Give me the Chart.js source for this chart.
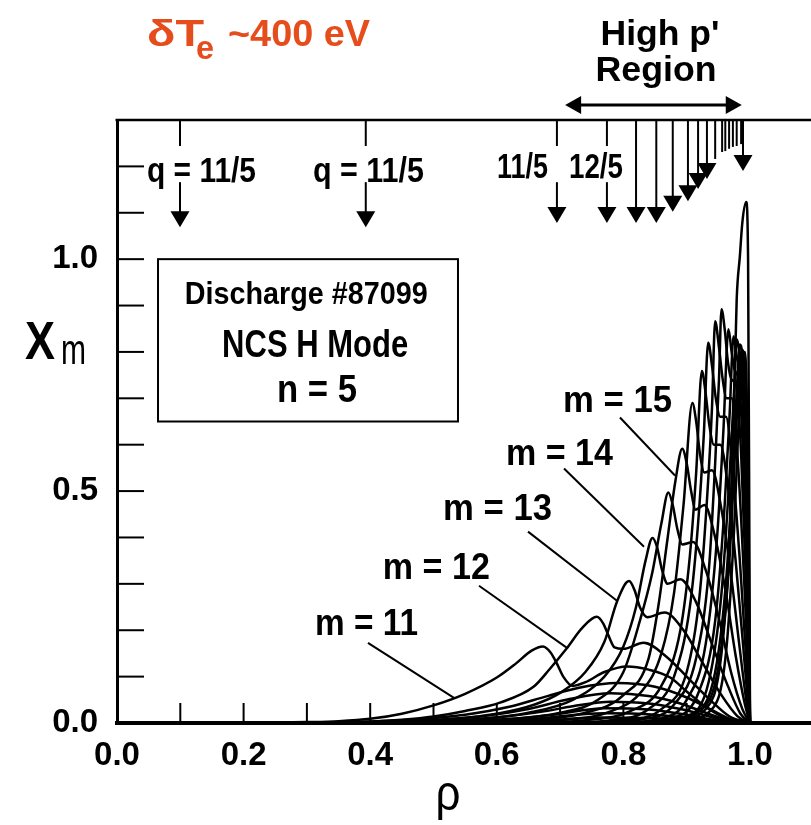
<!DOCTYPE html>
<html>
<head>
<title>Xm profiles, n = 5</title>
<script src="https://cdn.jsdelivr.net/npm/chart.js@4/dist/chart.umd.min.js"></script>
<style>
body { margin: 0; background: #fff; }
canvas { display: block; }
</style>
</head>
<body>
<canvas id="chart" width="811" height="825"></canvas>
<script>
// displacement X_m against rho, one list of [rho, X_m] per poloidal harmonic m
const mode5  = [[0.42,0],[0.58,0.002],[0.68,0.006],[0.76,0.012],[0.85,0.010],[0.92,0.005],[1.0,0]];
const mode6  = [[0.40,0],[0.55,0.003],[0.65,0.008],[0.77,0.021],[0.85,0.018],[0.91,0.010],[0.95,0.004],[1.0,0]];
const mode7  = [[0.38,0],[0.52,0.003],[0.62,0.009],[0.69,0.018],[0.77,0.032],[0.84,0.029],[0.89,0.020],[0.93,0.010],[0.96,0.003],[1.0,0]];
const mode8  = [[0.35,0],[0.50,0.004],[0.60,0.012],[0.67,0.024],[0.72,0.036],[0.78,0.046],[0.84,0.042],[0.89,0.030],[0.93,0.016],[0.96,0.005],[1.0,0]];
const mode9  = [[0.32,0],[0.48,0.005],[0.58,0.015],[0.65,0.030],[0.71,0.050],[0.78,0.064],[0.84,0.058],[0.89,0.042],[0.93,0.022],[0.965,0.006],[1.0,0]];
const mode10 = [[0.30,0],[0.45,0.006],[0.55,0.018],[0.62,0.035],[0.68,0.058],[0.73,0.076],[0.79,0.086],[0.85,0.078],[0.90,0.055],[0.94,0.028],[0.97,0.008],[1.0,0]];
const mode11 = [[0.20,0],[0.30,0.002],[0.35,0.004],[0.40,0.009],[0.45,0.020],[0.50,0.038],[0.55,0.063],[0.60,0.098],[0.63,0.128],[0.655,0.156],[0.673,0.165],[0.685,0.152],[0.695,0.128],[0.705,0.100],[0.72,0.080],[0.74,0.088],[0.77,0.110],[0.806,0.122],[0.84,0.115],[0.874,0.098],[0.90,0.068],[0.935,0.030],[0.965,0.008],[1.0,0]];
const mode12 = [[0.30,0],[0.40,0.003],[0.45,0.007],[0.50,0.014],[0.55,0.026],[0.605,0.044],[0.658,0.078],[0.684,0.117],[0.71,0.160],[0.735,0.205],[0.758,0.229],[0.768,0.215],[0.776,0.190],[0.786,0.163],[0.80,0.160],[0.832,0.173],[0.868,0.143],[0.905,0.093],[0.937,0.050],[0.968,0.014],[1.0,0]];
const mode13 = [[0.40,0],[0.50,0.006],[0.60,0.020],[0.66,0.040],[0.70,0.065],[0.74,0.110],[0.77,0.175],[0.79,0.262],[0.809,0.306],[0.818,0.285],[0.826,0.250],[0.838,0.228],[0.865,0.238],[0.895,0.200],[0.925,0.130],[0.955,0.060],[0.98,0.015],[1.0,0]];
const mode14 = [[0.45,0],[0.55,0.006],[0.65,0.022],[0.72,0.050],[0.77,0.100],[0.80,0.165],[0.82,0.250],[0.835,0.350],[0.846,0.399],[0.853,0.380],[0.861,0.330],[0.870,0.300],[0.890,0.310],[0.915,0.260],[0.940,0.170],[0.965,0.080],[0.985,0.020],[1.0,0]];
const mode15 = [[0.50,0],[0.60,0.006],[0.70,0.022],[0.76,0.050],[0.80,0.110],[0.826,0.220],[0.845,0.320],[0.860,0.430],[0.871,0.497],[0.878,0.470],[0.885,0.420],[0.893,0.385],[0.910,0.390],[0.930,0.330],[0.950,0.230],[0.970,0.110],[0.988,0.030],[1.0,0]];
const mode16 = [[0.55,0],[0.65,0.006],[0.74,0.022],[0.80,0.060],[0.84,0.140],[0.855,0.250],[0.870,0.400],[0.882,0.520],[0.893,0.591],[0.900,0.560],[0.907,0.500],[0.914,0.460],[0.928,0.470],[0.945,0.400],[0.962,0.280],[0.978,0.140],[0.992,0.040],[1.0,0]];
const mode17 = [[0.60,0],[0.70,0.006],[0.78,0.025],[0.83,0.070],[0.86,0.150],[0.88,0.280],[0.895,0.470],[0.909,0.690],[0.915,0.650],[0.921,0.580],[0.928,0.540],[0.940,0.545],[0.955,0.460],[0.970,0.320],[0.983,0.170],[0.995,0.040],[1.0,0]];
const mode18 = [[0.65,0],[0.74,0.006],[0.81,0.025],[0.86,0.080],[0.89,0.200],[0.905,0.360],[0.915,0.540],[0.924,0.759],[0.930,0.710],[0.936,0.640],[0.943,0.600],[0.953,0.600],[0.966,0.500],[0.978,0.340],[0.989,0.170],[0.997,0.040],[1.0,0]];
const mode19 = [[0.70,0],[0.78,0.006],[0.84,0.030],[0.88,0.100],[0.905,0.250],[0.918,0.430],[0.927,0.620],[0.934,0.820],[0.940,0.770],[0.946,0.700],[0.953,0.660],[0.962,0.660],[0.973,0.540],[0.984,0.350],[0.993,0.160],[1.0,0]];
const mode20 = [[0.72,0],[0.80,0.006],[0.86,0.030],[0.90,0.110],[0.92,0.270],[0.932,0.480],[0.940,0.680],[0.945,0.866],[0.951,0.810],[0.957,0.740],[0.963,0.700],[0.971,0.700],[0.981,0.560],[0.990,0.330],[0.997,0.120],[1.0,0]];
const mode21 = [[0.75,0],[0.83,0.008],[0.88,0.040],[0.915,0.140],[0.935,0.330],[0.945,0.560],[0.951,0.740],[0.955,0.892],[0.960,0.850],[0.965,0.780],[0.971,0.740],[0.978,0.730],[0.986,0.580],[0.993,0.330],[1.0,0]];
const mode22 = [[0.78,0],[0.86,0.010],[0.90,0.050],[0.93,0.170],[0.948,0.400],[0.958,0.630],[0.966,0.849],[0.971,0.800],[0.976,0.760],[0.982,0.740],[0.989,0.580],[0.995,0.300],[1.0,0]];
const mode23 = [[0.80,0],[0.88,0.012],[0.92,0.070],[0.945,0.220],[0.960,0.470],[0.968,0.670],[0.974,0.834],[0.979,0.790],[0.984,0.760],[0.990,0.640],[0.995,0.380],[1.0,0]];
const mode24 = [[0.82,0],[0.90,0.015],[0.935,0.090],[0.955,0.280],[0.968,0.540],[0.975,0.720],[0.979,0.827],[0.984,0.790],[0.989,0.720],[0.994,0.500],[1.0,0]];
const mode25 = [[0.85,0],[0.91,0.020],[0.945,0.110],[0.963,0.320],[0.974,0.580],[0.980,0.740],[0.984,0.816],[0.988,0.790],[0.993,0.640],[0.997,0.350],[1.0,0]];
const mode26 = [[0.86,0],[0.92,0.025],[0.95,0.120],[0.967,0.340],[0.977,0.600],[0.983,0.760],[0.987,0.805],[0.991,0.770],[0.995,0.600],[0.998,0.300],[1.0,0]];
const mode27 = [[0.88,0],[0.94,0.030],[0.962,0.150],[0.975,0.420],[0.983,0.680],[0.988,0.790],[0.992,0.800],[0.995,0.700],[0.998,0.400],[1.0,0]];
const mode28 = [[0.87,0],[0.93,0.030],[0.955,0.150],[0.968,0.400],[0.975,0.700],[0.979,0.913],[0.984,1.006],[0.988,1.080],[0.994,1.123],[0.997,1.000],[0.999,0.400],[1.0,0]];

const modeNumbers = [5, 6, 7, 8, 9, 10, 11, 12, 13, 14, 15, 16, 17, 18, 19, 20, 21, 22, 23, 24, 25, 26, 27, 28];
const modes = [mode5, mode6, mode7, mode8, mode9, mode10, mode11, mode12, mode13, mode14, mode15, mode16,
               mode17, mode18, mode19, mode20, mode21, mode22, mode23, mode24, mode25, mode26, mode27, mode28];

// axis labels
const xLabels = ['0.0', '0.2', '0.4', '0.6', '0.8', '1.0'];
const yLabels = ['0.0', '0.5', '1.0'];

// rational surfaces q = m/5 marked along the top: rho, arrow end (X_m units), arrowhead or not
const qRho  = [0.0995, 0.393, 0.695, 0.774, 0.820, 0.852, 0.878, 0.902, 0.918, 0.932, 0.945, 0.956, 0.961, 0.967, 0.973, 0.979, 0.986, 0.989];
const qTip  = [1.069, 1.069, 1.078, 1.078, 1.078, 1.078, 1.102, 1.125, 1.151, 1.173, 1.216, 1.231, 1.233, 1.238, 1.242, 1.244, 1.248, 1.190];
const qHead = [true, true, true, true, true, true, true, true, true, true, false, false, false, false, false, false, false, true];
const qLabels = ['q = 11/5', 'q = 11/5', '11/5', '12/5'];

// harmonics that get a callout
const mLabels = ['m = 11', 'm = 12', 'm = 13', 'm = 14', 'm = 15'];

const FONT = '"Liberation Sans", Arial, sans-serif';

function line(ctx, x1, y1, x2, y2, w) {
  ctx.lineWidth = w;
  ctx.beginPath();
  ctx.moveTo(x1, y1);
  ctx.lineTo(x2, y2);
  ctx.stroke();
}

function tri(ctx, pts) {
  ctx.beginPath();
  ctx.moveTo(pts[0], pts[1]);
  ctx.lineTo(pts[2], pts[3]);
  ctx.lineTo(pts[4], pts[5]);
  ctx.closePath();
  ctx.fill();
}

// text squeezed to a given width, like the condensed face of the figure
function fitText(ctx, text, x, y, font, width, align) {
  ctx.save();
  ctx.font = font;
  const w = ctx.measureText(text).width;
  ctx.translate(align === 'center' ? x - width / 2 : x, y);
  ctx.scale(width / w, 1);
  ctx.textAlign = 'left';
  ctx.textBaseline = 'alphabetic';
  ctx.fillText(text, 0, 0);
  ctx.restore();
}

const decor = {
  id: 'decor',
  afterDraw(chart) {
    const { ctx, chartArea: a, scales: { x, y } } = chart;
    const px = v => x.getPixelForValue(v);
    const py = v => y.getPixelForValue(v);
    ctx.save();
    ctx.strokeStyle = '#000';
    ctx.fillStyle = '#000';

    // top edge of the frame
    line(ctx, a.left - 1.5, a.top, a.right, a.top, 2.5);

    // tick marks point inwards
    for (const t of x.ticks) {
      if (t.value > 0 && t.value <= 1.0001) line(ctx, px(t.value), a.bottom, px(t.value), a.bottom - 20, 2);
    }
    for (const t of y.ticks) {
      if (t.value > 0 && t.value < 1.25) line(ctx, a.left, py(t.value), a.left + 27, py(t.value), 2);
    }

    // q = m/n surfaces
    const top = py(1.298);
    qRho.forEach((r, i) => {
      const xx = px(r);
      const tip = py(qTip[i]);
      const end = qHead[i] ? tip - 13 : tip;
      if (i < qLabels.length) {
        line(ctx, xx, top, xx, py(1.244), 2);
        line(ctx, xx, py(1.166), xx, end, 2);
      } else {
        line(ctx, xx, top, xx, end, 2);
      }
      if (qHead[i]) tri(ctx, [xx - 9.5, tip - 16, xx + 9.5, tip - 16, xx, tip]);
    });
    const qAt = [[0.0474, 1.166, 109], [0.3096, 1.166, 111], [0.6003, 1.175, 51], [0.714, 1.175, 54]];
    qLabels.forEach((s, i) => fitText(ctx, s, px(qAt[i][0]), py(qAt[i][1]), 'bold 35px ' + FONT, qAt[i][2], 'left'));

    // high p' region
    const ay = 105, ax1 = px(0.708), ax2 = px(0.987);
    line(ctx, ax1 + 8, ay, ax2 - 8, ay, 3);
    tri(ctx, [ax1, ay, ax1 + 16, ay - 9, ax1 + 16, ay + 9]);
    tri(ctx, [ax2, ay, ax2 - 16, ay - 9, ax2 - 16, ay + 9]);
    fitText(ctx, "High p'", 660, 45, 'bold 35px ' + FONT, 119, 'center');
    fitText(ctx, 'Region', 656, 81, 'bold 35px ' + FONT, 121, 'center');

    // temperature perturbation
    ctx.fillStyle = '#E54D1C';
    fitText(ctx, '\u03B4T', 147, 46, 'bold 36px ' + FONT, 57, 'left');
    fitText(ctx, 'e', 196, 59, 'bold 34px ' + FONT, 18, 'left');
    fitText(ctx, '~400 eV', 228, 46, 'bold 36px ' + FONT, 142, 'left');
    ctx.fillStyle = '#000';

    // axis titles
    fitText(ctx, 'X', 25, 359, 'bold 54px ' + FONT, 30, 'left');
    fitText(ctx, 'm', 61, 364, '42px ' + FONT, 25, 'left');
    fitText(ctx, '\u03C1', 448, 810, '50px ' + FONT, 25, 'center');

    // discharge box
    const bx1 = px(0.0648), bx2 = px(0.5387), by1 = py(1.0), by2 = py(0.650);
    ctx.lineWidth = 2;
    ctx.strokeRect(bx1, by1, bx2 - bx1, by2 - by1);
    fitText(ctx, 'Discharge #87099', px(0.299), py(0.903), 'bold 32px ' + FONT, 243, 'center');
    fitText(ctx, 'NCS H Mode', px(0.313), py(0.790), 'bold 38px ' + FONT, 186, 'center');
    fitText(ctx, 'n = 5', px(0.316), py(0.693), 'bold 38px ' + FONT, 80, 'center');

    // callouts for the low harmonics
    const mAt = [[0.313, 0.190, 103], [0.420, 0.311, 107], [0.515, 0.438, 109], [0.6145, 0.557, 107], [0.7046, 0.6695, 109]];
    const lead = [[0.3965, 0.1728, 0.5324, 0.054], [0.5719, 0.2959, 0.7109, 0.162], [0.6493, 0.4125, 0.7899, 0.2635],
                  [0.7062, 0.5486, 0.8326, 0.3801], [0.7946, 0.6587, 0.8815, 0.5335]];
    mLabels.forEach((s, i) => {
      fitText(ctx, s, px(mAt[i][0]), py(mAt[i][1]), 'bold 36px ' + FONT, mAt[i][2], 'left');
      const l = lead[i];
      line(ctx, px(l[0]), py(l[1]), px(l[2]), py(l[3]), 2);
    });
    ctx.restore();
  }
};

const datasets = modes.map((pts, i) => ({
  label: 'm = ' + modeNumbers[i],
  data: pts.map(p => ({ x: p[0], y: p[1] })),
  borderColor: '#000',
  borderWidth: 2.5,
  pointRadius: 0,
  fill: false,
  cubicInterpolationMode: 'monotone'
}));

const tickFont = { family: FONT, size: 33, weight: 'bold' };

new Chart(document.getElementById('chart'), {
  type: 'line',
  data: { datasets },
  options: {
    responsive: false,
    animation: false,
    layout: { padding: { top: 120, left: 0, right: 0, bottom: 0 } },
    plugins: { legend: { display: false }, tooltip: { enabled: false } },
    scales: {
      x: {
        type: 'linear',
        min: 0,
        max: 1.0964,
        afterFit(scale) { scale.height = 102; },
        grid: { display: false, drawTicks: false },
        border: { display: true, color: '#000', width: 4 },
        ticks: {
          stepSize: 0.1,
          includeBounds: false,
          autoSkip: false,
          maxRotation: 0,
          padding: 13,
          color: '#000',
          font: tickFont,
          callback: v => xLabels.includes(v.toFixed(1)) ? v.toFixed(1) : ''
        }
      },
      y: {
        min: 0,
        max: 1.3,
        afterFit(scale) { scale.width = 117; },
        grid: { display: false, drawTicks: false },
        border: { display: true, color: '#000', width: 3 },
        ticks: {
          stepSize: 0.1,
          includeBounds: false,
          autoSkip: false,
          padding: 19,
          color: '#000',
          font: tickFont,
          callback: v => yLabels.includes(v.toFixed(1)) ? v.toFixed(1) : ''
        }
      }
    }
  },
  plugins: [decor]
});
</script>
</body>
</html>
